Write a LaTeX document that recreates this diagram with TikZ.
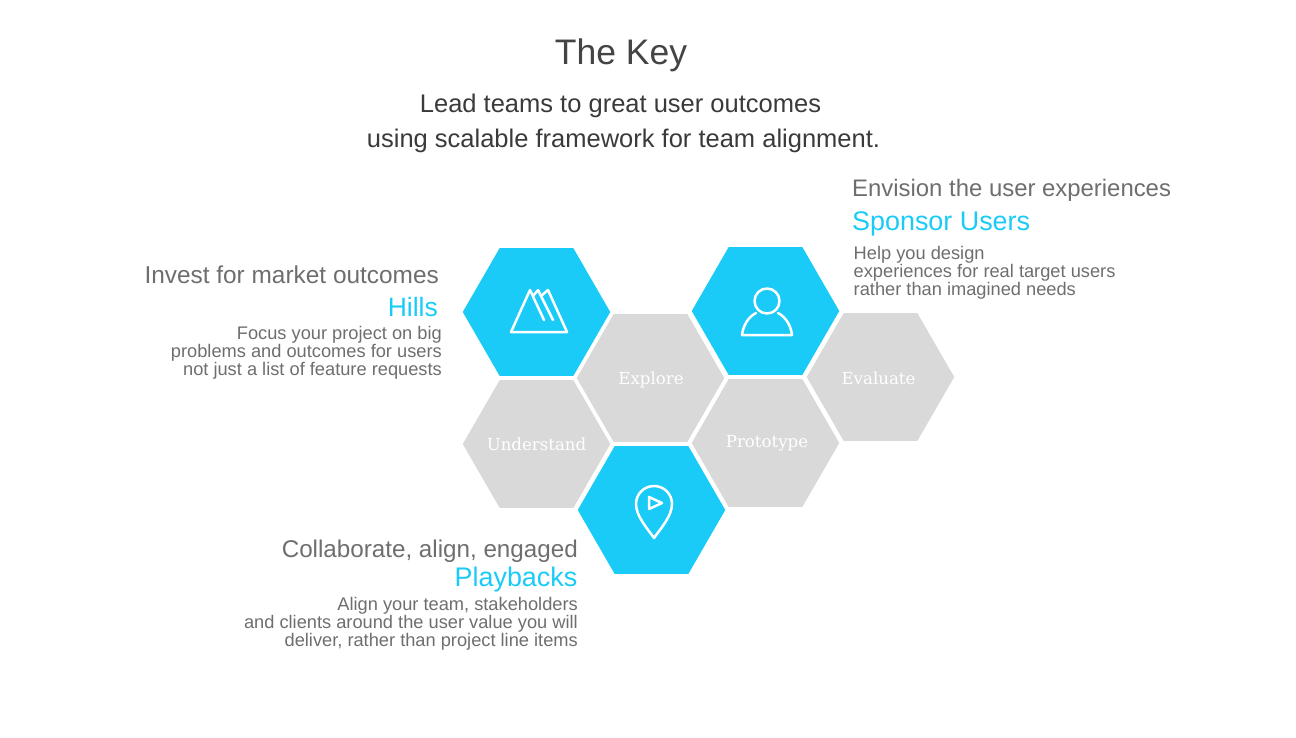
\documentclass[tikz,border=0pt]{standalone}
\usepackage{fontspec}
\setmainfont{Liberation Sans}
\newfontfamily\slabfont{DejaVu Serif}
\usetikzlibrary{shapes.geometric}
\definecolor{cyanhex}{HTML}{1ACBF7}
\definecolor{greyhex}{HTML}{D9D9D9}
\definecolor{headgrey}{HTML}{6E6E6E}
\definecolor{titlegrey}{HTML}{444444}
\definecolor{subgrey}{HTML}{3A3A3A}
\tikzset{
  x=1pt,y=-1pt,
  hex/.style={regular polygon,regular polygon sides=6,minimum size=147.5pt,inner sep=0pt,outer sep=0pt,draw=none},
  hexon/.style={hex,fill=cyanhex},
  hexoff/.style={hex,fill=greyhex},
  hexlabel/.style={text=white,inner sep=0pt,font=\slabfont\fontsize{16.6}{18}\selectfont},
  icon/.style={draw=white,line width=2.5pt,line join=round,line cap=round},
  heading/.style={text=headgrey,inner sep=0pt,font=\fontsize{24.2}{28}\selectfont},
  accent/.style={text=cyanhex,inner sep=0pt,font=\fontsize{26.9}{30}\selectfont},
  para/.style={text=headgrey,inner sep=0pt,font=\fontsize{18.25}{18}\selectfont},
}
\begin{document}
\begin{tikzpicture}
\useasboundingbox (0,0) rectangle (1296,737);
% hexagons
\node[hexon] (hills) at (536.5,312) {};
\node[hexoff] (explore) at (650.5,378) {};
\node[hexoff] (understand) at (536.5,444) {};
\node[hexon] (playbacks) at (651.5,510) {};
\node[hexon] (sponsor) at (765.5,311) {};
\node[hexoff] (prototype) at (765.5,443) {};
\node[hexoff] (evaluate) at (880.5,377) {};
% hexagon labels
\node[hexlabel] (lexplore) at (651,379.5) {Explore};
\node[hexlabel] (lunderstand) at (536.5,444.5) {Understand};
\node[hexlabel] (lprototype) at (767,443) {Prototype};
\node[hexlabel] (levaluate) at (878.5,378) {Evaluate};
% mountain icon
\draw[icon] (567,332) -- (511,332) -- (530,290) -- (544,320);
\draw[icon] (533,296) -- (538,290) -- (553,320);
\draw[icon] (541,296) -- (548,290) -- (567,332);
% person icon
\draw[icon] (767,301) circle (12.5);
\draw[icon] (756,313) .. controls (748,317) and (743,326) .. (742,335) -- (792,335) .. controls (791,326) and (786,317) .. (778,313);
% pin icon
\draw[icon] (654,538) .. controls (647,528) and (636,516) .. (636,504) .. controls (636,494) and (644,486) .. (654,486) .. controls (664,486) and (672,494) .. (672,504) .. controls (672,516) and (661,528) .. (654,538) -- cycle;
\draw[icon] (649,497) -- (649,509) -- (662,503) -- cycle;
% title
\node[text=titlegrey,inner sep=0pt,anchor=base,font=\fontsize{35.5}{40}\selectfont] (title) at (621,64) {The Key};
\node[text=subgrey,inner sep=0pt,anchor=base,font=\fontsize{25.5}{30}\selectfont] (sub1) at (620.5,112) {Lead teams to great user outcomes};
\node[text=subgrey,inner sep=0pt,anchor=base,font=\fontsize{25.5}{30}\selectfont] (sub2) at (623.5,147) {using scalable framework for team alignment.};
% sponsor users text
\node[heading,anchor=base west,font=\fontsize{23.9}{28}\selectfont] (h1) at (852,196) {Envision the user experiences};
\node[accent,anchor=base west] (a1) at (852,230) {Sponsor Users};
\node[para,anchor=north west,align=left] (p1) at (853.5,246) {Help you design\\experiences for real target users\\rather than imagined needs};
% hills text
\node[heading,anchor=base east,font=\fontsize{24.4}{28}\selectfont] (h2) at (439,283) {Invest for market outcomes};
\node[accent,anchor=base east,font=\fontsize{26.5}{30}\selectfont] (a2) at (438,316) {Hills};
\node[para,anchor=north east,align=right] (p2) at (442,326) {Focus your project on big\\problems and outcomes for users\\not just a list of feature requests};
% playbacks text
\node[heading,anchor=base east] (h3) at (578,557) {Collaborate, align, engaged};
\node[accent,anchor=base east] (a3) at (577.5,586) {Playbacks};
\node[para,anchor=north east,align=right] (p3) at (578,597) {Align your team, stakeholders\\and clients around the user value you will\\deliver, rather than project line items};
\end{tikzpicture}
\end{document}
